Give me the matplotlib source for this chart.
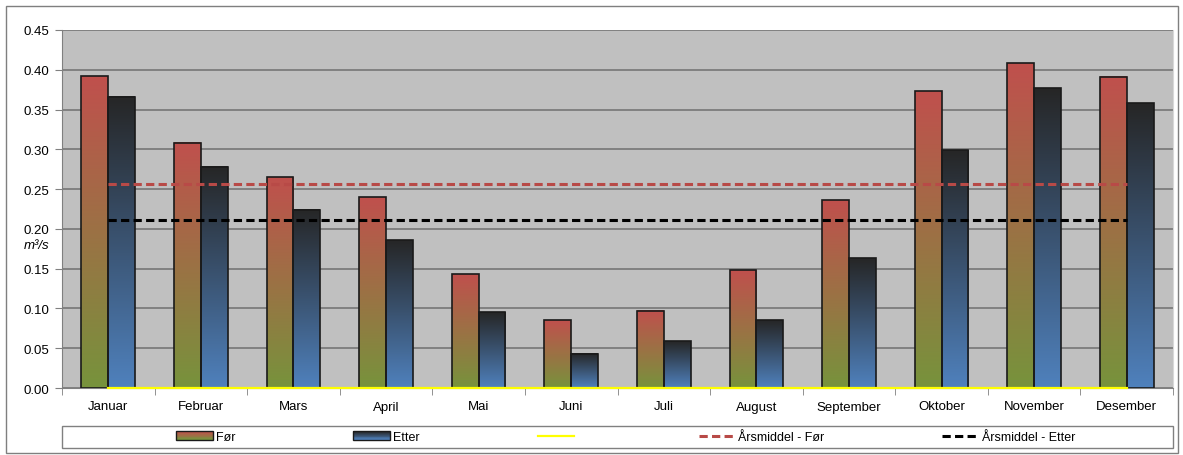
import matplotlib.pyplot as plt
import numpy as np
from matplotlib.colors import LinearSegmentedColormap
from matplotlib.lines import Line2D
from matplotlib.patches import Rectangle

plt.rcParams["font.family"] = ["Liberation Sans", "DejaVu Sans"]

maaneder = ["Januar", "Februar", "Mars", "April", "Mai", "Juni",
            "Juli", "August", "September", "Oktober", "November", "Desember"]
vannforing_for = [0.392, 0.308, 0.265, 0.240, 0.143, 0.085,
                  0.097, 0.148, 0.236, 0.373, 0.408, 0.391]
vannforing_etter = [0.366, 0.278, 0.224, 0.186, 0.095, 0.043,
                    0.059, 0.085, 0.163, 0.299, 0.377, 0.358]
arsmiddel_for = [0.257] * 12
arsmiddel_etter = [0.211] * 12
nullinje = [0.0] * 12

FOR_TOPP, FOR_BUNN = "#C0504D", "#77933C"
ETTER_TOPP, ETTER_BUNN = "#262626", "#4F81BD"
BAR_W = 0.29
STREK = (0, (2.7, 1.4))


def gradient_bar(ax, x, width, height, topp, bunn):
    grad = np.linspace(1, 0, 256).reshape(-1, 1)
    cmap = LinearSegmentedColormap.from_list("g", [bunn, topp])
    ax.imshow(grad, extent=(x, x + width, 0, height), aspect="auto",
              cmap=cmap, vmin=0, vmax=1, zorder=2, interpolation="bilinear")
    ax.add_patch(Rectangle((x, 0), width, height, fill=False,
                           edgecolor="#1a1a1a", lw=1.2, zorder=3))


class GradientHandler:
    def __init__(self, topp, bunn):
        self.cmap = LinearSegmentedColormap.from_list("g", [bunn, topp])

    def legend_artist(self, legend, orig_handle, fontsize, handlebox):
        x0, y0 = handlebox.xdescent, handlebox.ydescent
        w, h = handlebox.width, handlebox.height
        n = 10
        for k in range(n):
            handlebox.add_artist(Rectangle(
                (x0, y0 + k * h / n), w, h / n + 0.2,
                facecolor=self.cmap(k / (n - 1)), edgecolor="none",
                transform=handlebox.get_transform()))
        ramme = Rectangle((x0, y0), w, h, fill=False, edgecolor="#1a1a1a",
                          lw=1, transform=handlebox.get_transform())
        handlebox.add_artist(ramme)
        return ramme


fig = plt.figure(figsize=(11.83, 4.56), dpi=100)
ax = fig.add_axes([62 / 1183, 1 - 389 / 456, 1111 / 1183, 358 / 456])
ax.set_facecolor("#C0C0C0")

x = np.arange(len(maaneder))
for i in x:
    gradient_bar(ax, i - BAR_W, BAR_W, vannforing_for[i], FOR_TOPP, FOR_BUNN)
    gradient_bar(ax, i, BAR_W, vannforing_etter[i], ETTER_TOPP, ETTER_BUNN)

ax.plot(x, nullinje, color="#FFFF00", lw=1.6, zorder=4, clip_on=False)
ax.plot(x, arsmiddel_for, color="#B84A47", lw=2.2, ls=STREK, zorder=5)
ax.plot(x, arsmiddel_etter, color="black", lw=2.2, ls=STREK, zorder=5)

ax.set_xlim(-0.5, 11.5)
ax.set_ylim(0, 0.45)
ax.set_yticks(np.arange(0, 0.451, 0.05))
ax.set_yticklabels([f"{v:.2f}" for v in np.arange(0, 0.451, 0.05)])
ax.yaxis.grid(True, color="#707070", lw=1.1)
ax.set_axisbelow(True)

ax.set_xticks(x)
ax.set_xticklabels(maaneder)
ax.set_xticks(np.arange(-0.5, 12, 1), minor=True)
ax.tick_params(axis="x", which="major", length=0, pad=9, labelsize=9.5)
ax.tick_params(axis="x", which="minor", length=5, color="#808080")
ax.tick_params(axis="y", length=5, color="#808080", labelsize=9.5, pad=4)

ax.spines["top"].set_visible(False)
ax.spines["right"].set_color("#D8D8D8")
ax.spines["left"].set_color("#808080")
ax.spines["bottom"].set_color("#808080")

ax.set_ylabel("m³/s", rotation=0, style="italic", fontsize=9.5, va="center")
ax.yaxis.set_label_coords(-0.023, 0.40)

# legend box spans the plot width, entries centred inside it
fig.add_artist(Rectangle((62 / 1183, 1 - 449 / 456), 1111 / 1183, 22 / 456,
                         transform=fig.transFigure, facecolor="white",
                         edgecolor="#808080", lw=1))
handles = [Rectangle((0, 0), 1, 1), Rectangle((0, 0), 1, 1),
           Line2D([], [], color="#FFFF00", lw=1.6),
           Line2D([], [], color="#B84A47", lw=2.2, ls=STREK),
           Line2D([], [], color="black", lw=2.2, ls=STREK)]
labels = ["Før", "Etter", " ", "Årsmiddel - Før", "Årsmiddel - Etter"]
leg = fig.legend(handles, labels, ncol=5, loc="center",
                 bbox_to_anchor=(626 / 1183, 1 - 438 / 456),
                 fontsize=9, frameon=False, handlelength=2.9,
                 handletextpad=0.3, columnspacing=9.4, borderpad=0,
                 handler_map={handles[0]: GradientHandler(FOR_TOPP, FOR_BUNN),
                              handles[1]: GradientHandler(ETTER_TOPP, ETTER_BUNN)})
leg.set_zorder(5)

fig.add_artist(Rectangle((6 / 1183, 2 / 456), 1172 / 1183, 447 / 456,
                         transform=fig.transFigure, fill=False,
                         edgecolor="#7F7F7F", lw=1))

fig.savefig("out.png", dpi=100)
